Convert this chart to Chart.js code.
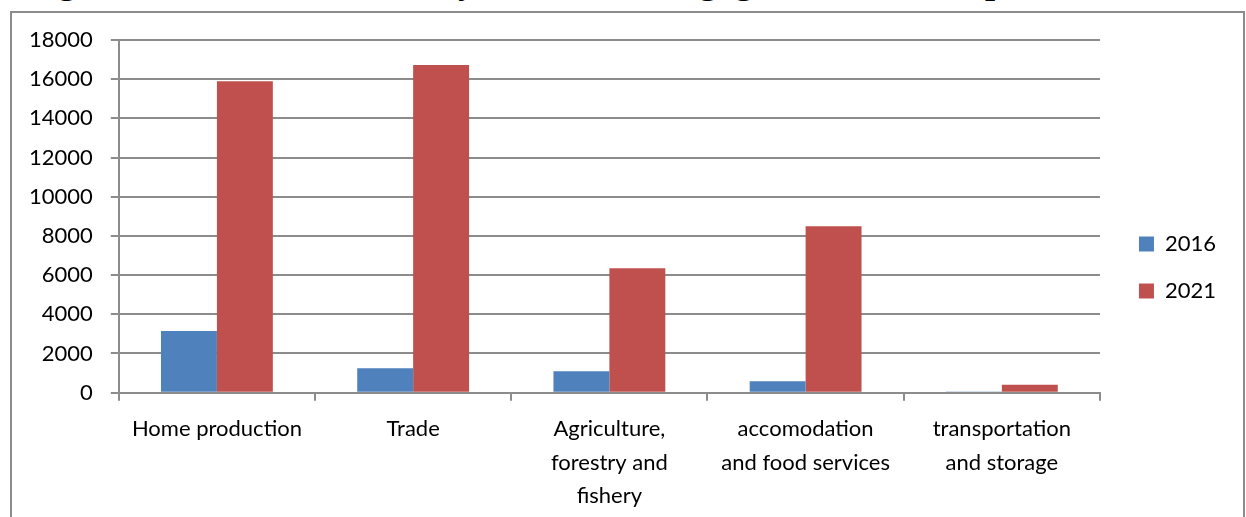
<!DOCTYPE html>
<html>
<head>
<meta charset="utf-8">
<script src="https://cdn.jsdelivr.net/npm/chart.js@4"></script>
<style>
  html, body { margin: 0; padding: 0; background: #fff; overflow: hidden; }
  #wrap { position: relative; width: 1246px; height: 517px; overflow: hidden; }
  #frame { position: absolute; left: 10px; top: 11px; width: 1231px; height: 520px; border: 2px solid #8c8c8c; }
  .ttl { position: absolute; top: -37px; font: bold 36px "Liberation Serif", serif; line-height: 36px; white-space: nowrap; color: #000; }
  #chart { position: absolute; left: 0; top: 0; }
</style>
</head>
<body>
<div id="wrap">
  <div class="ttl" style="left:26px">Figure 5: Number of households</div>
  <div class="ttl" style="left:438px">by sector</div>
  <div class="ttl" style="left:663px">engaged in</div>
  <div class="ttl" style="left:985px">production</div>
  <div id="frame"></div>
  <canvas id="chart" width="1246" height="525"></canvas>
</div>
<script>
// Sectors and number of households in 2016 / 2021
const sectors = [
    ['Home production'],
    ['Trade'],
    ['Agriculture,', 'forestry and', 'fishery'],
    ['accomodation', 'and food services'],
    ['transportation', 'and storage']
];
const values2016 = [3150, 1250, 1100, 580, 60];
const values2021 = [15900, 16720, 6350, 8500, 400];
const yTicks = [0, 2000, 4000, 6000, 8000, 10000, 12000, 14000, 16000, 18000];

const font = { family: 'Lato', size: 22 };
const gridGray = '#8c8c8c';

const data = {
    labels: sectors,
    datasets: [{
        label: '2016',
        data: values2016,
        backgroundColor: '#4F81BD'
    }, {
        label: '2021',
        data: values2021,
        backgroundColor: '#C0504D'
    }]
};

// nudge the legend up a bit, it sits centred on the full height otherwise
const legendShift = {
    id: 'legendShift',
    afterLayout(chart) {
        chart.legend.top -= 15;
        chart.legend.bottom -= 15;
    }
};

const config = {
    type: 'bar',
    data: data,
    plugins: [legendShift],
    options: {
        responsive: false,
        animation: false,
        categoryPercentage: 0.57,
        barPercentage: 1,
        layout: { padding: { top: 40, left: 11, right: 20, bottom: 0 } },
        plugins: {
            tooltip: { enabled: false },
            legend: {
                position: 'right',
                labels: {
                    color: '#000',
                    font: font,
                    boxWidth: 15,
                    boxHeight: 15,
                    padding: 25
                }
            }
        },
        scales: {
            x: {
                grid: {
                    offset: true,
                    drawOnChartArea: false,
                    color: gridGray,
                    lineWidth: 2,
                    tickLength: 8
                },
                border: { color: gridGray, width: 2 },
                ticks: { color: '#000', font: { family: 'Lato', size: 22, lineHeight: 1.52 }, padding: 12, maxRotation: 0 }
            },
            y: {
                min: 0,
                max: 18000,
                afterBuildTicks: s => { s.ticks = yTicks.map(v => ({ value: v })); },
                grid: { color: gridGray, lineWidth: 2, tickLength: 8 },
                border: { color: gridGray, width: 2 },
                ticks: { color: '#000', font: font, padding: 18, callback: v => String(v) }
            },
            gap: {
                position: 'right',
                display: true,
                grid: { display: false },
                border: { display: false },
                ticks: { display: false },
                afterFit: s => { s.width = 14; }
            }
        }
    }
};

window.onload = function() {
    const ctx = document.getElementById('chart').getContext('2d');
    new Chart(ctx, config);
};
</script>
</body>
</html>
